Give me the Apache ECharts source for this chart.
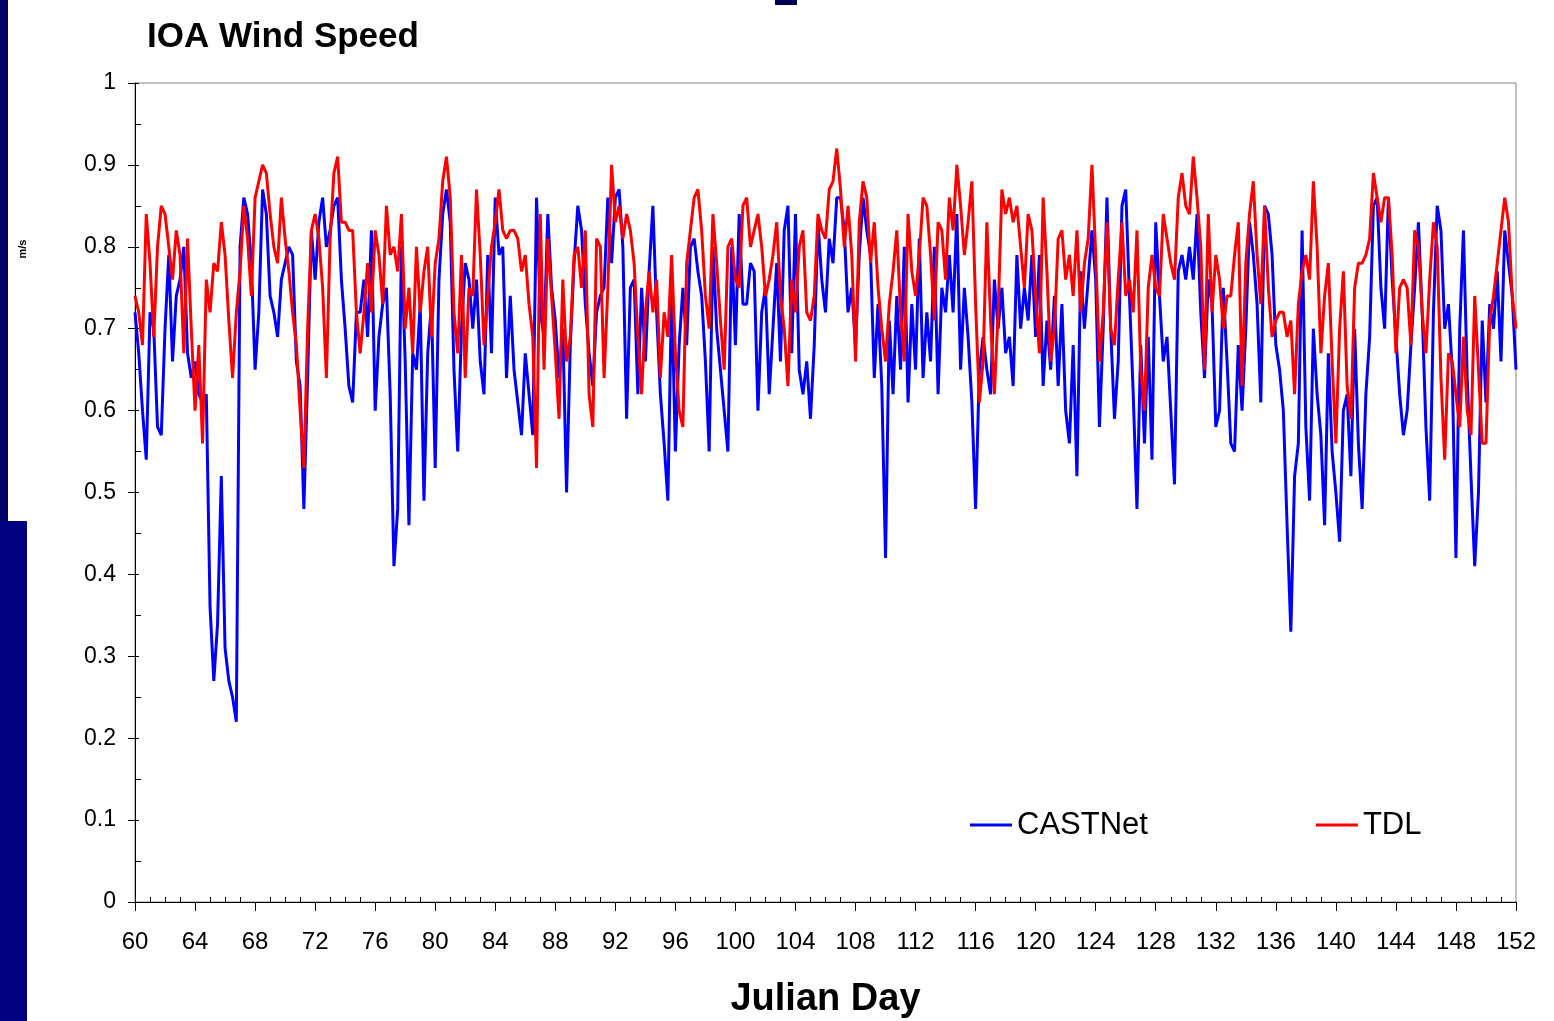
<!DOCTYPE html>
<html>
<head>
<meta charset="utf-8">
<title>IOA Wind Speed</title>
<script src="https://cdn.jsdelivr.net/npm/echarts@6/dist/echarts.min.js"></script>
<style>
  html, body { margin: 0; padding: 0; background: #ffffff; }
  #chart { width: 1554px; height: 1021px; }
</style>
</head>
<body>
<div id="chart"></div>
<script>
// Sampling: one value every 6 hours, starting at Julian day 60
const DAY_START = 60;
const DAY_STEP = 0.25;

// X axis tick labels (Julian day)
const dayTicks = [60, 64, 68, 72, 76, 80, 84, 88, 92, 96, 100, 104, 108, 112, 116, 120, 124, 128, 132, 136, 140, 144, 148, 152];

// CASTNet index of agreement, wind speed (two days per row)
const castnet = [
  0.72,0.67,0.60,0.54, 0.72,0.70,0.58,0.57,
  0.70,0.79,0.66,0.74, 0.76,0.80,0.67,0.64,
  0.66,0.62,0.61,0.62, 0.36,0.27,0.34,0.52,
  0.31,0.27,0.25,0.22, 0.80,0.86,0.84,0.78,
  0.65,0.72,0.87,0.84, 0.74,0.72,0.69,0.76,
  0.78,0.80,0.79,0.66, 0.63,0.48,0.64,0.82,
  0.76,0.83,0.86,0.80, 0.82,0.85,0.86,0.76,
  0.70,0.63,0.61,0.72, 0.72,0.76,0.69,0.82,
  0.60,0.69,0.73,0.75, 0.62,0.41,0.48,0.80,
  0.66,0.46,0.67,0.65, 0.73,0.49,0.67,0.73,
  0.53,0.76,0.84,0.87, 0.83,0.65,0.55,0.70,
  0.78,0.76,0.70,0.76, 0.66,0.62,0.79,0.67,
  0.86,0.79,0.80,0.64, 0.74,0.65,0.61,0.57,
  0.67,0.62,0.57,0.86, 0.72,0.69,0.84,0.75,
  0.71,0.64,0.70,0.50, 0.68,0.78,0.85,0.82,
  0.73,0.67,0.63,0.72, 0.74,0.75,0.86,0.78,
  0.86,0.87,0.80,0.59, 0.75,0.76,0.62,0.75,
  0.66,0.77,0.85,0.72, 0.62,0.56,0.49,0.75,
  0.55,0.68,0.75,0.68, 0.80,0.81,0.77,0.74,
  0.66,0.55,0.80,0.70, 0.65,0.60,0.55,0.80,
  0.68,0.84,0.73,0.73, 0.78,0.77,0.60,0.72,
  0.75,0.62,0.70,0.78, 0.66,0.82,0.85,0.67,
  0.84,0.65,0.62,0.66, 0.59,0.68,0.83,0.76,
  0.72,0.81,0.78,0.86, 0.86,0.82,0.72,0.75,
  0.68,0.79,0.86,0.82, 0.79,0.64,0.73,0.63,
  0.42,0.71,0.62,0.74, 0.65,0.80,0.61,0.73,
  0.65,0.81,0.64,0.72, 0.66,0.80,0.62,0.75,
  0.72,0.79,0.72,0.84, 0.65,0.75,0.69,0.61,
  0.48,0.65,0.69,0.65, 0.62,0.76,0.70,0.75,
  0.67,0.69,0.63,0.79, 0.70,0.75,0.71,0.79,
  0.69,0.79,0.63,0.71, 0.65,0.74,0.63,0.73,
  0.60,0.56,0.68,0.52, 0.77,0.70,0.76,0.82,
  0.76,0.58,0.70,0.86, 0.70,0.59,0.66,0.85,
  0.87,0.74,0.62,0.48, 0.68,0.56,0.69,0.54,
  0.83,0.74,0.66,0.69, 0.60,0.51,0.77,0.79,
  0.76,0.80,0.76,0.84, 0.72,0.64,0.76,0.73,
  0.58,0.60,0.75,0.66, 0.56,0.55,0.68,0.60,
  0.70,0.83,0.79,0.73, 0.61,0.85,0.84,0.79,
  0.68,0.65,0.60,0.46, 0.33,0.52,0.56,0.82,
  0.58,0.49,0.70,0.62, 0.57,0.46,0.67,0.55,
  0.50,0.44,0.60,0.62, 0.52,0.70,0.56,0.48,
  0.62,0.69,0.85,0.86, 0.75,0.70,0.86,0.76,
  0.69,0.62,0.57,0.60, 0.68,0.75,0.83,0.72,
  0.58,0.49,0.72,0.85, 0.82,0.70,0.73,0.65,
  0.42,0.70,0.82,0.64, 0.52,0.41,0.50,0.71,
  0.61,0.73,0.70,0.77, 0.66,0.82,0.78,0.74,
  0.65
];

// TDL index of agreement, wind speed (two days per row)
const tdl = [
  0.74,0.72,0.68,0.84, 0.78,0.69,0.80,0.85,
  0.84,0.80,0.76,0.82, 0.79,0.67,0.81,0.70,
  0.60,0.68,0.56,0.76, 0.72,0.78,0.77,0.83,
  0.79,0.71,0.64,0.72, 0.77,0.85,0.81,0.74,
  0.86,0.88,0.90,0.89, 0.84,0.80,0.78,0.86,
  0.81,0.77,0.72,0.68, 0.60,0.53,0.70,0.82,
  0.84,0.81,0.75,0.64, 0.81,0.89,0.91,0.83,
  0.83,0.82,0.82,0.72, 0.67,0.72,0.78,0.72,
  0.82,0.79,0.73,0.85, 0.79,0.80,0.77,0.84,
  0.70,0.75,0.67,0.80, 0.72,0.77,0.80,0.69,
  0.78,0.81,0.88,0.91, 0.86,0.72,0.67,0.79,
  0.64,0.75,0.74,0.87, 0.79,0.68,0.74,0.80,
  0.83,0.87,0.82,0.81, 0.82,0.82,0.81,0.77,
  0.79,0.73,0.69,0.53, 0.84,0.65,0.81,0.74,
  0.67,0.59,0.76,0.66, 0.69,0.79,0.80,0.75,
  0.82,0.62,0.58,0.81, 0.80,0.64,0.75,0.90,
  0.83,0.85,0.81,0.84, 0.82,0.78,0.69,0.62,
  0.72,0.77,0.72,0.76, 0.64,0.72,0.69,0.79,
  0.67,0.60,0.58,0.78, 0.82,0.86,0.87,0.82,
  0.74,0.70,0.84,0.78, 0.71,0.65,0.80,0.81,
  0.76,0.75,0.85,0.86, 0.80,0.82,0.84,0.80,
  0.74,0.76,0.79,0.83, 0.74,0.70,0.63,0.76,
  0.72,0.80,0.82,0.72, 0.71,0.74,0.84,0.82,
  0.81,0.87,0.88,0.92, 0.87,0.80,0.85,0.79,
  0.66,0.83,0.88,0.86, 0.78,0.83,0.75,0.70,
  0.66,0.73,0.77,0.82, 0.72,0.66,0.84,0.77,
  0.74,0.79,0.86,0.85, 0.79,0.71,0.83,0.82,
  0.76,0.86,0.82,0.90, 0.85,0.79,0.83,0.88,
  0.73,0.61,0.66,0.83, 0.71,0.62,0.72,0.87,
  0.84,0.86,0.83,0.85, 0.80,0.75,0.84,0.82,
  0.74,0.67,0.86,0.77, 0.66,0.70,0.81,0.82,
  0.76,0.79,0.74,0.82, 0.72,0.78,0.81,0.90,
  0.79,0.66,0.72,0.83, 0.70,0.68,0.76,0.83,
  0.74,0.76,0.72,0.82, 0.65,0.60,0.75,0.79,
  0.75,0.74,0.84,0.81, 0.78,0.76,0.86,0.89,
  0.85,0.84,0.91,0.86, 0.80,0.65,0.84,0.72,
  0.79,0.76,0.70,0.74, 0.74,0.79,0.83,0.63,
  0.78,0.84,0.88,0.79, 0.73,0.85,0.75,0.69,
  0.71,0.72,0.72,0.69, 0.71,0.62,0.73,0.77,
  0.79,0.76,0.88,0.80, 0.67,0.74,0.78,0.66,
  0.56,0.70,0.77,0.63, 0.59,0.75,0.78,0.78,
  0.79,0.81,0.89,0.86, 0.83,0.86,0.86,0.79,
  0.67,0.75,0.76,0.75, 0.68,0.82,0.80,0.72,
  0.67,0.76,0.83,0.80, 0.64,0.54,0.67,0.66,
  0.62,0.58,0.69,0.60, 0.57,0.74,0.65,0.56,
  0.56,0.71,0.74,0.78, 0.82,0.86,0.83,0.74,
  0.70
];

function toPairs(values) {
  return values.map(function (v, i) { return [DAY_START + i * DAY_STEP, v]; });
}

const FONT = '"Liberation Sans", Arial, Helvetica, sans-serif';
const dayMin = dayTicks[0];
const dayMax = dayTicks[dayTicks.length - 1];
const dayInterval = dayTicks[1] - dayTicks[0];

const chart = echarts.init(document.getElementById('chart'), null, { renderer: 'canvas' });

chart.setOption({
  animation: false,
  backgroundColor: '#ffffff',
  textStyle: { fontFamily: FONT, color: '#000000' },
  title: {
    text: 'IOA Wind Speed',
    left: 147,
    top: 18,
    padding: 0,
    textStyle: { fontFamily: FONT, fontSize: 35, fontWeight: 'bold', color: '#000000', lineHeight: 38 }
  },
  legend: {
    data: ['CASTNet', 'TDL'],
    left: 970,
    top: 808,
    padding: 0,
    icon: 'rect',
    itemWidth: 42,
    itemHeight: 3,
    itemGap: 168,
    textStyle: { fontFamily: FONT, fontSize: 31, color: '#000000', lineHeight: 34 }
  },
  grid: {
    left: 135,
    right: 38,
    top: 83,
    bottom: 119,
    containLabel: false,
    outerBoundsMode: 'none',
    show: true,
    backgroundColor: '#ffffff',
    borderColor: '#8c8282',
    borderWidth: 1
  },
  xAxis: [
    {
      type: 'value',
      position: 'bottom',
      min: dayMin,
      max: dayMax,
      interval: dayInterval,
      name: 'Julian Day',
      nameLocation: 'middle',
      nameGap: 79,
      nameTextStyle: { fontFamily: FONT, fontSize: 38, fontWeight: 'bold', color: '#000000' },
      axisLine: { show: true, onZero: false, lineStyle: { color: '#000000', width: 1 } },
      axisTick: { show: true, inside: false, length: 9, lineStyle: { color: '#000000', width: 1 } },
      minorTick: { show: false },
      axisLabel: { fontFamily: FONT, fontSize: 24, color: '#000000', margin: 28 },
      splitLine: { show: false }
    },
    {
      // day-level minor ticks pointing into the plot
      type: 'value',
      position: 'bottom',
      min: dayMin,
      max: dayMax,
      interval: dayInterval,
      axisLine: { show: false },
      axisTick: { show: false, inside: true },
      minorTick: { show: true, splitNumber: 4, length: 5, lineStyle: { color: '#000000', width: 1 } },
      axisLabel: { show: false },
      splitLine: { show: false }
    }
  ],
  yAxis: [
    {
      type: 'value',
      position: 'left',
      min: 0,
      max: 1,
      interval: 0.1,
      axisLine: { show: true, onZero: false, lineStyle: { color: '#000000', width: 1 } },
      axisTick: { show: true, inside: false, length: 7, lineStyle: { color: '#000000', width: 1 } },
      minorTick: { show: false },
      axisLabel: { fontFamily: FONT, fontSize: 23, color: '#000000', margin: 19 },
      splitLine: { show: false }
    },
    {
      // inner half of the crossing ticks plus 0.05 minor ticks
      type: 'value',
      position: 'left',
      min: 0,
      max: 1,
      interval: 0.1,
      axisLine: { show: false },
      axisTick: { show: true, inside: true, length: 4, lineStyle: { color: '#000000', width: 1 } },
      minorTick: { show: true, splitNumber: 2, length: 6, lineStyle: { color: '#000000', width: 1 } },
      axisLabel: { show: false },
      splitLine: { show: false }
    }
  ],
  series: [
    {
      name: 'CASTNet',
      type: 'line',
      xAxisIndex: 0,
      yAxisIndex: 0,
      data: toPairs(castnet),
      symbol: 'none',
      lineStyle: { color: '#0000ff', width: 3 },
      itemStyle: { color: '#0000ff' },
      z: 2
    },
    {
      name: 'TDL',
      type: 'line',
      xAxisIndex: 0,
      yAxisIndex: 0,
      data: toPairs(tdl),
      symbol: 'none',
      lineStyle: { color: '#ff0000', width: 3 },
      itemStyle: { color: '#ff0000' },
      z: 3
    }
  ],
  graphic: [
    // slide frame accents
    { type: 'rect', left: 0, top: 0, z: 100, shape: { width: 8, height: 521 }, style: { fill: '#000066' } },
    { type: 'rect', left: 0, top: 521, z: 100, shape: { width: 27, height: 500 }, style: { fill: '#000080' } },
    { type: 'rect', left: 775, top: 0, z: 100, shape: { width: 22, height: 5 }, style: { fill: '#000055' } },
    // y axis unit
    {
      type: 'text',
      x: 23,
      y: 249,
      rotation: Math.PI / 2,
      z: 100,
      style: {
        text: 'm/s',
        fontFamily: FONT,
        fontSize: 11,
        fontWeight: 'bold',
        fill: '#000000',
        align: 'center',
        verticalAlign: 'middle'
      }
    }
  ]
});
</script>
</body>
</html>
